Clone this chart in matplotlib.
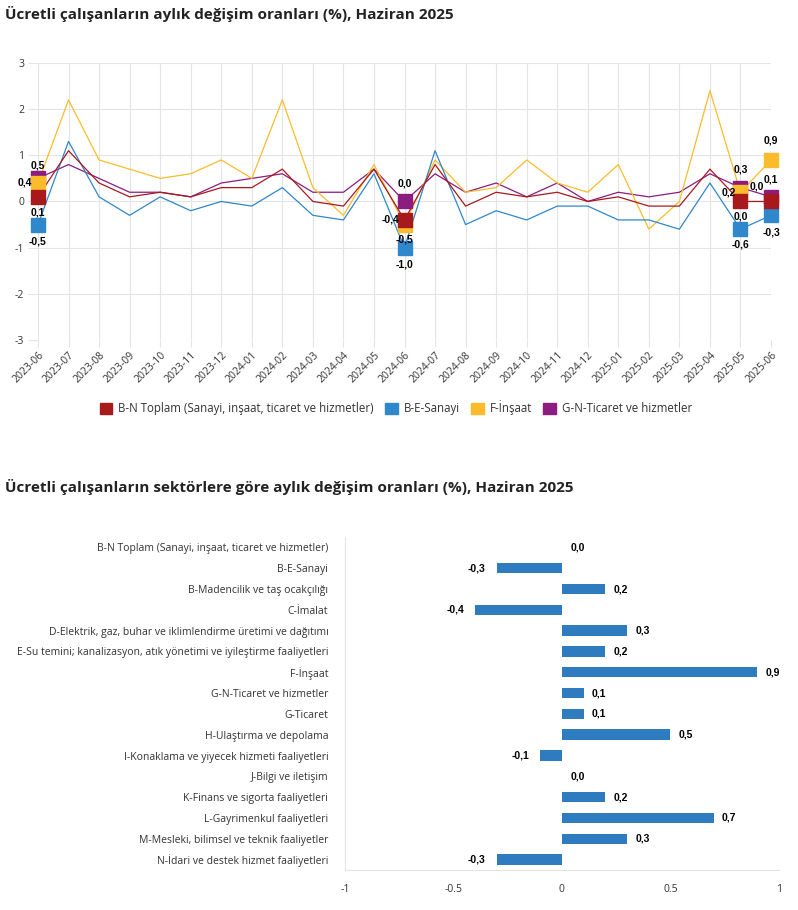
import numpy as np
from matplotlib import pyplot as plt
from matplotlib.patches import Patch

plt.rcParams['font.family'] = ['Open Sans', 'DejaVu Sans']
plt.rcParams['axes.unicode_minus'] = False

# ---- veri: aylık değişim (%) ----
aylar = ['2023-06', '2023-07', '2023-08', '2023-09', '2023-10', '2023-11', '2023-12',
         '2024-01', '2024-02', '2024-03', '2024-04', '2024-05', '2024-06', '2024-07',
         '2024-08', '2024-09', '2024-10', '2024-11', '2024-12', '2025-01', '2025-02',
         '2025-03', '2025-04', '2025-05', '2025-06']
bn_toplam = [0.1, 1.1, 0.4, 0.1, 0.2, 0.1, 0.3, 0.3, 0.7, 0.0, -0.1, 0.7, -0.4, 0.8,
             -0.1, 0.2, 0.1, 0.2, 0.0, 0.1, -0.1, -0.1, 0.7, 0.0, 0.0]
be_sanayi = [-0.5, 1.3, 0.1, -0.3, 0.1, -0.2, 0.0, -0.1, 0.3, -0.3, -0.4, 0.6, -1.0, 1.1,
             -0.5, -0.2, -0.4, -0.1, -0.1, -0.4, -0.4, -0.6, 0.4, -0.6, -0.3]
f_insaat = [0.4, 2.2, 0.9, 0.7, 0.5, 0.6, 0.9, 0.5, 2.2, 0.3, -0.3, 0.8, -0.5, 0.9,
            0.2, 0.3, 0.9, 0.4, 0.2, 0.8, -0.6, 0.0, 2.4, 0.2, 0.9]
gn_ticaret = [0.5, 0.8, 0.5, 0.2, 0.2, 0.1, 0.4, 0.5, 0.6, 0.2, 0.2, 0.7, 0.0, 0.6,
              0.2, 0.4, 0.1, 0.4, 0.0, 0.2, 0.1, 0.2, 0.6, 0.3, 0.1]
seri_adlari = ['B-N Toplam (Sanayi, inşaat, ticaret ve hizmetler)', 'B-E-Sanayi',
               'F-İnşaat', 'G-N-Ticaret ve hizmetler']
isaretli_aylar = ['2023-06', '2024-06', '2025-05', '2025-06']

# ---- veri: sektörler, Haziran 2025 ----
sektorler = ['B-N Toplam (Sanayi, inşaat, ticaret ve hizmetler)', 'B-E-Sanayi',
             'B-Madencilik ve taş ocakçılığı', 'C-İmalat',
             'D-Elektrik, gaz, buhar ve iklimlendirme üretimi ve dağıtımı',
             'E-Su temini; kanalizasyon, atık yönetimi ve iyileştirme faaliyetleri',
             'F-İnşaat', 'G-N-Ticaret ve hizmetler', 'G-Ticaret', 'H-Ulaştırma ve depolama',
             'I-Konaklama ve yiyecek hizmeti faaliyetleri', 'J-Bilgi ve iletişim',
             'K-Finans ve sigorta faaliyetleri', 'L-Gayrimenkul faaliyetleri',
             'M-Mesleki, bilimsel ve teknik faaliyetler', 'N-İdari ve destek hizmet faaliyetleri']
sektor_degisim = [0.0, -0.3, 0.2, -0.4, 0.3, 0.2, 0.9, 0.1, 0.1, 0.5, -0.1, 0.0, 0.2, 0.7, 0.3, -0.3]

renkler = ['#a8191c', '#2f87cc', '#fbbc2b', '#8c1c80']
grid_renk = '#e4e4e4'
yazi_renk = '#333333'

# etiket kaydırmaları (piksel) -> seri sırası, işaretli ay sırası
etiket_kay = [
    [(0, -16), (-14, 0), (0, -15), (-14, 15)],   # kırmızı
    [(0, -17), (0, -17), (0, -15), (0, -17)],    # mavi
    [(-13, 1), (0, -15), (-12, 0), (0, 19)],     # sarı
    [(0, 13), (0, 18), (0, 18), (0, 17)],        # mor
]

def fmt(v):
    return f'{v:.1f}'.replace('.', ',')

fig = plt.figure(figsize=(7.98, 9.10), dpi=100)

# ================= üst grafik =================
ax = fig.add_axes([0.0476, 0.6264, 0.9186, 0.3044])
x = np.arange(len(aylar))
seriler = [bn_toplam, be_sanayi, f_insaat, gn_ticaret]
for i, (s, c) in enumerate(zip(seriler, renkler)):
    z = 10 - i
    ax.plot(x, s, color=c, lw=0.9, zorder=z)
    for j, ay in enumerate(isaretli_aylar):
        k = aylar.index(ay)
        ax.plot(k, s[k], marker='s', ms=9.5, color=c, mec=c, zorder=z + 5, clip_on=False)
        dx, dy = etiket_kay[i][j]
        ax.annotate(fmt(s[k]), (k, s[k]), xytext=(dx * 0.72, dy * 0.72), textcoords='offset points',
                    ha='center', va='center', fontsize=7.5, fontweight='bold',
                    family='Liberation Sans', color='black', zorder=30)

ax.set_xlim(0, len(aylar) - 1)
ax.set_ylim(-3, 3)
ax.set_yticks([-3, -2, -1, 0, 1, 2, 3])
ax.set_xticks(x)
ax.set_xticklabels(aylar, rotation=45, ha='right', rotation_mode='anchor')
ax.grid(True, color=grid_renk, lw=0.8)
ax.set_axisbelow(True)
for sp in ax.spines.values():
    sp.set_visible(False)
ax.tick_params(axis='x', length=5, color=grid_renk, labelsize=7.5, labelcolor=yazi_renk, pad=2)
ax.tick_params(axis='y', length=7, color=grid_renk, labelsize=7.5, labelcolor=yazi_renk, pad=3)

handles = [Patch(facecolor=c, edgecolor=c) for c in renkler]
fig.legend(handles, seri_adlari, loc='center', bbox_to_anchor=(0.496, 0.552), ncol=4,
           frameon=False, fontsize=8.3, handlelength=1.1, handleheight=1.1,
           handletextpad=0.5, columnspacing=1.0, labelcolor=yazi_renk)

fig.text(0.006, 0.985, 'Ücretli çalışanların aylık değişim oranları (%), Haziran 2025',
         fontsize=11, fontweight='bold', color='#222222', va='center')

# ================= alt grafik =================
ax2 = fig.add_axes([0.4323, 0.044, 0.5437, 0.3659])
yy = np.arange(len(sektorler))
ax2.barh(yy, sektor_degisim, height=0.5, color='#2e7bbf', lw=0)
for yv, v in zip(yy, sektor_degisim):
    if v < 0:
        ax2.annotate(fmt(v), (v, yv), xytext=(-8, 0), textcoords='offset points',
                     ha='right', va='center', fontsize=7.5, fontweight='bold',
                     family='Liberation Sans', color='black')
    else:
        ax2.annotate(fmt(v), (v, yv), xytext=(6, 0), textcoords='offset points',
                     ha='left', va='center', fontsize=7.5, fontweight='bold',
                     family='Liberation Sans', color='black')
ax2.set_xlim(-1, 1)
ax2.set_ylim(len(sektorler) - 0.5, -0.5)
ax2.set_yticks(yy)
ax2.set_yticklabels(sektorler)
ax2.set_xticks([-1, -0.5, 0, 0.5, 1])
ax2.set_xticklabels(['-1', '-0.5', '0', '0.5', '1'])
ax2.spines['top'].set_visible(False)
ax2.spines['right'].set_visible(False)
ax2.spines['left'].set_color(grid_renk)
ax2.spines['bottom'].set_color(grid_renk)
ax2.tick_params(axis='y', length=0, labelsize=7.5, labelcolor=yazi_renk, pad=12)
ax2.tick_params(axis='x', length=0, labelsize=7.5, labelcolor=yazi_renk, pad=10)

fig.text(0.006, 0.465, 'Ücretli çalışanların sektörlere göre aylık değişim oranları (%), Haziran 2025',
         fontsize=11, fontweight='bold', color='#222222', va='center')

fig.savefig('out.png', dpi=100)
